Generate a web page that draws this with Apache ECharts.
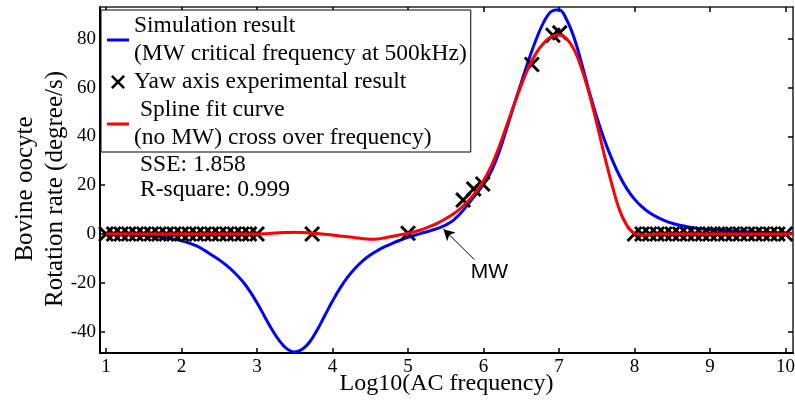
<!DOCTYPE html>
<html><head><meta charset="utf-8">
<script src="https://cdn.jsdelivr.net/npm/echarts@6/dist/echarts.min.js"></script>
<style>html,body{margin:0;padding:0;background:#fff}#c{width:795px;height:405px}</style>
</head><body><div id="c"></div>
<script>
// ---- data ----
const xTicks = [1, 2, 3, 4, 5, 6, 7, 8, 9, 10];
const yTicks = [-40, -20, 0, 20, 40, 60, 80];

const blueName = 'Simulation result\n(MW critical frequency at 500kHz)';
const crossName = 'Yaw axis experimental result';
const redName = ' Spline fit curve\n(no MW) cross over frequency)';

const curveX = [1.0,1.1,1.2,1.3,1.4,1.5,1.6,1.7,1.8,1.9,2.0,2.1,2.2,2.3,2.4,2.5,2.6,2.7,2.8,2.9,
  3.0,3.1,3.2,3.3,3.4,3.5,3.6,3.7,3.8,3.9,4.0,4.1,4.2,4.3,4.4,4.5,4.6,4.7,4.8,4.9,
  5.0,5.1,5.2,5.3,5.4,5.5,5.6,5.7,5.8,5.9,6.0,6.1,6.2,6.3,6.4,6.5,6.6,6.7,6.8,6.9,
  7.0,7.1,7.2,7.3,7.4,7.5,7.6,7.7,7.8,7.9,8.0,8.1,8.2,8.3,8.4,8.5,8.6,8.7,8.8,8.9,
  9.0,9.1,9.2,9.3,9.4,9.5,9.6,9.7,9.8,9.9,10.0,10.1];
const blueY = [0,0,-0.1,-0.2,-0.4,-0.6,-0.9,-1.2,-1.6,-2.1,-2.8,-3.7,-4.9,-6.6,-8.6,-10.6,-13.0,-15.8,-19.1,-23.2,
  -28.2,-33.8,-39.3,-43.9,-47.2,-48.4,-47.3,-44.2,-39.2,-33.3,-27.5,-22.2,-17.7,-14.0,-11.0,-8.6,-6.7,-5.1,-3.7,-2.5,
  -1.4,-0.4,0.5,1.4,2.4,3.7,5.6,8.6,12.4,16.3,20.3,25.5,33,42.5,52.5,62,71.5,80,87,91.3,
  92,88,80.5,70,58.5,48,38.8,30.8,24,18.5,14.3,11.1,8.7,6.9,5.5,4.4,3.6,3.0,2.5,2.1,
  1.8,1.6,1.4,1.2,1.1,0.9,0.8,0.7,0.5,0.4,0.3,0.3];
const redY = [0,0,0,0,0,0,0,0,0,0,0,0,0,0,0,0,0,0,0,0,
  0,0.1,0.3,0.5,0.6,0.7,0.6,0.4,0.2,-0.1,-0.4,-0.8,-1.1,-1.5,-1.9,-2.1,-2.0,-1.5,-0.9,-0.3,
  0.3,1.0,2.0,3.2,4.6,6.3,8.2,10.6,13.6,17.3,21.8,27.6,35.2,43.8,52.6,61,68.5,74.3,78.3,81,
  81.6,80.1,75.6,67.8,57.6,45.5,32.5,20.5,10,3.5,0.2,-0.4,-0.2,0,0,0,0,0,0,0,
  0,0,0,0,0,0,0,0,0,0,0,0];

const crossX = [1.0,1.1,1.2,1.3,1.4,1.5,1.6,1.7,1.8,1.9,2.0,2.1,2.2,2.3,2.4,2.5,2.6,2.7,2.8,2.9,3.0,
  3.73,5.0,5.73,5.87,5.99,6.64,6.92,7.01,
  8.0,8.1,8.2,8.3,8.4,8.5,8.6,8.7,8.8,8.9,9.0,9.1,9.2,9.3,9.4,9.5,9.6,9.7,9.8,9.9,10.0];
const crossY = [0,0,0,0,0,0,0,0,0,0,0,0,0,0,0,0,0,0,0,0,0,
  0,0.3,13.9,18.5,20.5,69.5,81.5,82.5,
  0,0,0,0,0,0,0,0,0,0,0,0,0,0,0,0,0,0,0,0,0];

const statLines = ['SSE: 1.858', 'R-square: 0.999'];
const annotText = 'MW';
const annotTip = [5.47, 2.0];
const annotTail = [5.88, -10.5];
const annotLabel = [6.08, -15.5];

// ---- chart ----
const zip = (a, b) => a.map((v, i) => [v, b[i]]);
const SERIF = "'Liberation Serif', 'Times New Roman', serif";
const crossPath = 'path://M0,2.6 L2.6,0 L10,7.4 L17.4,0 L20,2.6 L12.6,10 L20,17.4 L17.4,20 L10,12.6 L2.6,20 L0,17.4 L7.4,10 Z';
const lineIcon = 'path://M0,0 L22,0 L22,3 L0,3 Z';

const X_MIN = 0.92, X_MAX = 10.1, Y_MIN = -48.8, Y_MAX = 93.1;

const tickCommon = { inside: true, length: 5, lineStyle: { color: '#000', width: 1.5 } };

const chart = echarts.init(document.getElementById('c'), null, { renderer: 'canvas' });
const option = {
  animation: false,
  backgroundColor: '#fff',
  grid: { left: 100, right: 2, top: 7, bottom: 52, containLabel: false, outerBoundsMode: 'none' },
  legend: {
    left: 101, top: 10, orient: 'vertical',
    padding: [2, 4, 0, 6],
    itemGap: 0, itemWidth: 22, itemHeight: 14, itemTextGap: 3,
    borderColor: '#000', borderWidth: 1, backgroundColor: '#fff',
    selectedMode: false,
    textStyle: { fontFamily: SERIF, fontSize: 23.5, lineHeight: 28, color: '#000' },
    data: [
      { name: blueName, icon: lineIcon, itemStyle: { color: '#0000ff' } },
      { name: crossName },
      { name: redName, icon: lineIcon, itemStyle: { color: '#ff0000' } }
    ]
  },
  xAxis: [
    {
      type: 'value', min: X_MIN, max: X_MAX, position: 'bottom',
      name: 'Log10(AC frequency)', nameLocation: 'middle', nameGap: 19, nameMoveOverlap: false,
      nameTextStyle: { fontFamily: SERIF, fontSize: 24, color: '#000' },
      axisLine: { onZero: false, lineStyle: { color: '#000', width: 2 } },
      axisTick: Object.assign({ customValues: xTicks }, tickCommon),
      axisLabel: { customValues: xTicks, margin: 5, fontFamily: SERIF, fontSize: 19, color: '#000' },
      splitLine: { show: false }
    },
    {
      type: 'value', min: X_MIN, max: X_MAX, position: 'top',
      axisLine: { onZero: false, lineStyle: { color: '#222', width: 1.5 } },
      axisTick: Object.assign({ customValues: xTicks }, tickCommon),
      axisLabel: { show: false },
      splitLine: { show: false }
    }
  ],
  yAxis: [
    {
      type: 'value', min: Y_MIN, max: Y_MAX, position: 'left',
      name: 'Bovine oocyte\nRotation rate (degree/s)', nameLocation: 'middle', nameGap: 30, nameRotate: 90,
      nameMoveOverlap: false,
      nameTextStyle: { fontFamily: SERIF, fontSize: 25, lineHeight: 30, color: '#000', padding: [0, 18, 0, 0] },
      axisLine: { onZero: false, lineStyle: { color: '#000', width: 2 } },
      axisTick: Object.assign({ customValues: yTicks }, tickCommon),
      axisLabel: { customValues: yTicks, margin: 4, fontFamily: SERIF, fontSize: 19, color: '#000' },
      splitLine: { show: false }
    },
    {
      type: 'value', min: Y_MIN, max: Y_MAX, position: 'right',
      axisLine: { onZero: false, lineStyle: { color: '#222', width: 1.5 } },
      axisTick: Object.assign({ customValues: yTicks }, tickCommon),
      axisLabel: { show: false },
      splitLine: { show: false }
    }
  ],
  series: [
    {
      name: blueName, type: 'line', data: zip(curveX, blueY),
      symbol: 'none', smooth: 0.4, clip: true, z: 2,
      lineStyle: { color: '#0000ff', width: 3 }, itemStyle: { color: '#0000ff' }
    },
    {
      name: crossName, type: 'scatter', data: zip(crossX, crossY),
      symbol: crossPath, symbolSize: 16, symbolKeepAspect: true, z: 3,
      itemStyle: { color: '#000', opacity: 1 },
      emphasis: { disabled: true }
    },
    {
      name: redName, type: 'line', data: zip(curveX, redY),
      symbol: 'none', smooth: 0.4, clip: true, z: 4,
      lineStyle: { color: '#ff0000', width: 3 }, itemStyle: { color: '#ff0000' },
      markLine: {
        silent: true, animation: false,
        symbol: ['none', 'arrow'], symbolSize: [9, 11],
        label: { show: false },
        lineStyle: { color: '#000', width: 1, type: 'solid' },
        data: [[{ coord: annotTail }, { coord: annotTip }]]
      }
    }
  ]
};
chart.setOption(option);

const lp = chart.convertToPixel({ gridIndex: 0 }, annotLabel);
chart.setOption({
  graphic: [
    { type: 'text', x: 140, y: 165, z: 10,
      style: { text: statLines[0], font: '23.5px ' + SERIF, fill: '#000', verticalAlign: 'middle' } },
    { type: 'text', x: 140, y: 190, z: 10,
      style: { text: statLines[1], font: '23.5px ' + SERIF, fill: '#000', verticalAlign: 'middle' } },
    { type: 'text', x: lp[0], y: lp[1], z: 10,
      style: { text: annotText, font: "21px 'Liberation Sans', Arial, sans-serif", fill: '#000', align: 'center', verticalAlign: 'middle' } }
  ]
});
</script>
</body></html>
